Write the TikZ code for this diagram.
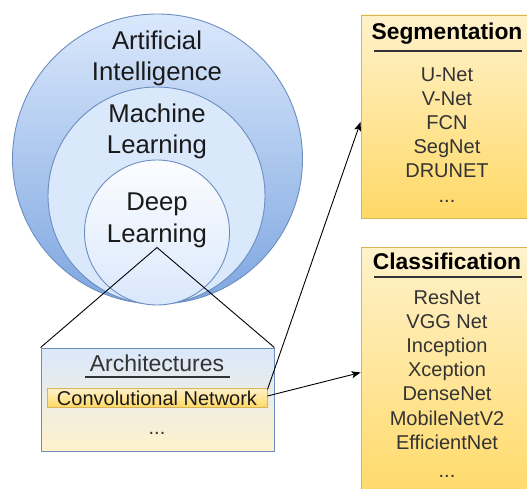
\documentclass[tikz,border=0pt]{standalone}
\usepackage{fontspec}
\setmainfont{Liberation Sans}
\usetikzlibrary{arrows.meta}
\definecolor{blueA}{HTML}{DAE8FC}
\definecolor{blueB}{HTML}{7EA6E0}
\definecolor{blueS}{HTML}{6C8EBF}
\definecolor{yelA}{HTML}{FFF2CC}
\definecolor{yelB}{HTML}{FFD966}
\definecolor{yelS}{HTML}{D6B656}
\definecolor{txt}{HTML}{1A1A1A}
\definecolor{itemtxt}{HTML}{333333}
\tikzset{
  ring/.style={circle, draw=blueS, line width=0.9pt, inner sep=0pt},
  bigtxt/.style={font=\fontsize{25.7}{31}\selectfont, text=txt, anchor=base, inner sep=0pt},
  archtxt/.style={font=\fontsize{23}{27}\selectfont, text=itemtxt, anchor=base, inner sep=0pt},
  titletxt/.style={font=\fontsize{22.8}{27}\selectfont\bfseries, text=black, anchor=base, inner sep=0pt},
  itemtxt/.style={font=\fontsize{20}{24}\selectfont, text=itemtxt, anchor=base, inner sep=0pt},
  yelbox/.style={rectangle, draw=yelS, line width=0.9pt, top color=yelA, bottom color=yelB, inner sep=0pt},
  hline/.style={line width=2.8pt, draw=itemtxt},
  conn/.style={line width=0.9pt, draw=black},
  arr/.style={conn, -{Stealth[length=9pt,width=7pt,inset=2pt]}}
}
\begin{document}
\begin{tikzpicture}[x=1pt,y=-1pt]
\useasboundingbox (0,0) rectangle (527,489);
\clip (0,0) rectangle (527,489);
% circles
\node[ring, minimum size=290pt, top color=blueA, bottom color=blueB] (ai) at (157.5,159) {};
\node[ring, minimum size=217pt, fill=blueA] (ml) at (156.5,195.5) {};
\node[ring, minimum size=145pt, top color=white!90!blueA, bottom color=blueA] (dl) at (157,232.5) {};
\node[bigtxt] (ai1) at (157,50) {Artificial};
\node[bigtxt] (ai2) at (157,81) {Intelligence};
\node[bigtxt] (ml1) at (157,123) {Machine};
\node[bigtxt] (ml2) at (157,154) {Learning};
\node[bigtxt] (dl1) at (157,211) {Deep};
\node[bigtxt] (dl2) at (157,242) {Learning};
\coordinate (apex) at (157,247.5);
% architectures box
\node[rectangle, draw=blueS, line width=0.9pt, top color=blueA, bottom color=yelA, minimum width=233pt, minimum height=103pt, inner sep=0pt] (arch) at (157.5,399.5) {};
\draw[conn] (arch.north west) -- (apex) -- (arch.north east);
\node[archtxt] (archt) at (157,371) {Architectures};
\draw[hline] (85,377) -- (230,377);
\node[yelbox, minimum width=220pt, minimum height=19pt] (conv) at (157,397.5) {};
\node[itemtxt, text=txt] (convt) at (157,405) {Convolutional Network};
\node[itemtxt, text=itemtxt] (archdots) at (157,434) {...};
% segmentation
\node[yelbox, minimum width=172pt, minimum height=203pt] (seg) at (447,116.5) {};
\node[titletxt] (segt) at (447,40) {Segmentation};
\draw[hline] (374,51) -- (522,51);
\node[itemtxt] (s1) at (447,82) {U-Net};
\node[itemtxt] (s2) at (447,106) {V-Net};
\node[itemtxt] (s3) at (447,130) {FCN};
\node[itemtxt] (s4) at (447,154) {SegNet};
\node[itemtxt] (s5) at (447,178) {DRUNET};
\node[itemtxt] (s6) at (447,203) {...};
% classification
\node[yelbox, minimum width=172pt, minimum height=258pt] (cls) at (447,376) {};
\node[titletxt] (clst) at (447,269) {Classification};
\draw[hline] (374,277) -- (522,277);
\node[itemtxt] (c1) at (447,304) {ResNet};
\node[itemtxt] (c2) at (447,328) {VGG Net};
\node[itemtxt] (c3) at (447,352.5) {Inception};
\node[itemtxt] (c4) at (447,376.5) {Xception};
\node[itemtxt] (c5) at (447,400.5) {DenseNet};
\node[itemtxt] (c6) at (447,425) {MobileNetV2};
\node[itemtxt] (c7) at (447,449) {EfficientNet};
\node[itemtxt] (c8) at (447,477) {...};
% arrows
\draw[arr] ([yshift=-2pt]conv.north east) -- ([yshift=-5.5pt]seg.west);
\draw[arr] ([yshift=1.5pt]conv.east) -- ([yshift=3.5pt]cls.west);
\end{tikzpicture}
\end{document}
